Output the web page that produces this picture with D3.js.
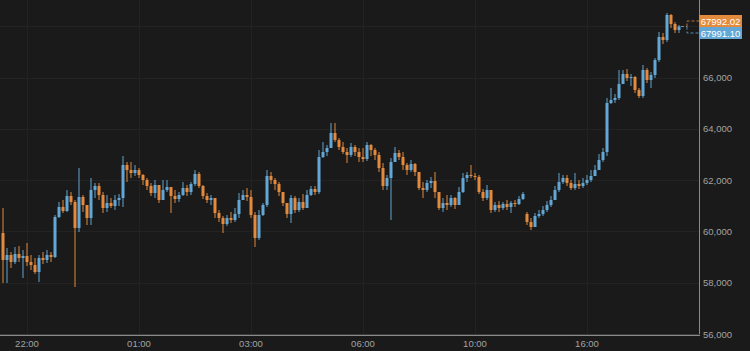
<!DOCTYPE html>
<html>
<head>
<meta charset="utf-8">
<script src="https://cdn.jsdelivr.net/npm/d3@7"></script>
<style>
  html, body { margin: 0; padding: 0; background: #1a1a1a; }
  svg { display: block; }
  .axis text { fill: #a3a3a3; font-family: "Liberation Sans", Arial, sans-serif; font-size: 9.5px; }
</style>
</head>
<body>
<div id="chart"></div>
<script>
// candle data, one entry per bar (open of a bar = close of the previous one)
const closes = [
  58886, 59081, 58808, 59120, 58964, 59042, 58808, 58691, 58418, 58964,
  58886, 59081, 59003, 60563, 60953, 60797, 61382, 61148, 60134, 61343,
  61031, 60524, 61616, 61772, 61421, 60914, 61109, 60992, 61226, 61304,
  62591, 62396, 62279, 62396, 62201, 62006, 61772, 61499, 61811, 61226,
  61616, 61733, 61382, 61265, 61421, 61694, 61538, 61850, 62240, 61772,
  61382, 61226, 61304, 60719, 60524, 60290, 60524, 60446, 60680, 61226,
  61421, 61343, 60641, 59744, 60641, 61031, 62162, 62006, 61850, 61538,
  61109, 60680, 61304, 60836, 61148, 60914, 61421, 61655, 61538, 62903,
  63098, 63254, 63839, 63566, 63293, 63098, 62981, 63293, 63098, 62903,
  62825, 63371, 63176, 62981, 62474, 61772, 62084, 62708, 63059, 62903,
  62591, 62396, 62630, 62318, 61694, 61616, 61889, 61967, 61538, 60914,
  61109, 61031, 61304, 61031, 61538, 62084, 62201, 62162, 62123, 61538,
  61304, 61616, 60836, 61031, 60914, 61070, 60953, 61109, 61070, 61265,
  61460, 60368, 60173, 60602, 60680, 60836, 61031, 61226, 61616, 61928,
  62084, 61889, 61694, 61850, 61772, 61889, 62006, 62162, 62396, 62786,
  63098, 65009, 65126, 65204, 65750, 66140, 65984, 66023, 65516, 65282,
  66296, 65906, 66101, 66686, 67583, 67466, 68441, 68090, 67856, 67992.02
];
const highs = [
  60914, 59354, 59198, 59393, 59432, 59276, 59549, 59081, 58964, 59081,
  59198, 59276, 59198, 60641, 61148, 61226, 61616, 61538, 61226, 62474,
  61421, 61031, 62084, 61889, 61889, 61538, 61421, 61304, 61421, 61460,
  62942, 62708, 62708, 62591, 62474, 62240, 62084, 61889, 62006, 61694,
  62006, 62006, 61694, 61616, 61538, 61928, 61811, 61928, 62396, 62318,
  61811, 61499, 61421, 61226, 60836, 60602, 60641, 60758, 60914, 61499,
  61616, 61694, 61616, 60758, 60836, 61109, 62396, 62318, 62084, 61928,
  61460, 61031, 61421, 61382, 61304, 61460, 61616, 61772, 61772, 63176,
  63488, 63371, 64229, 64229, 63644, 63488, 63254, 63449, 63371, 63254,
  63254, 63488, 63410, 63254, 63098, 62669, 62201, 62864, 63293, 63176,
  63098, 62669, 62786, 62669, 62318, 61928, 62006, 62123, 62318, 61382,
  61304, 61421, 61421, 61343, 61733, 62279, 62318, 62591, 62279, 62201,
  61655, 61811, 61421, 61148, 61187, 61148, 61226, 61187, 61226, 61382,
  61538, 60758, 60524, 60719, 60836, 60992, 61187, 61382, 61772, 62279,
  62201, 62201, 62006, 62279, 62006, 62084, 62201, 62396, 62591, 63020,
  63254, 65204, 65594, 65360, 66296, 66296, 66335, 66140, 66062, 65594,
  66491, 66374, 66218, 66764, 67778, 67739, 68519, 68480, 68168, 68051
];
const lows = [
  57989, 57989, 58574, 58730, 58808, 58184, 58652, 58496, 58340, 58028,
  58730, 58769, 58808, 58964, 60524, 60719, 60758, 61031, 57833, 59978,
  60758, 60251, 60251, 61304, 61226, 60719, 60758, 60914, 60836, 60992,
  60953, 61928, 62084, 62162, 62084, 61811, 61616, 61382, 61304, 61109,
  61499, 61538, 60719, 61109, 61148, 61382, 61382, 61421, 61772, 61694,
  61265, 61109, 61031, 60524, 60368, 59939, 60212, 60329, 60368, 60524,
  61226, 61187, 60524, 59393, 59666, 60602, 60953, 61850, 61616, 61382,
  60992, 60524, 60329, 60719, 60758, 60836, 60914, 61382, 61421, 61460,
  62864, 62942, 63332, 63488, 63176, 63020, 62669, 62903, 62942, 62708,
  62708, 62747, 62942, 62786, 62318, 61616, 61616, 60446, 62708, 62786,
  62396, 62201, 62318, 62162, 61616, 61304, 61538, 61694, 61304, 60836,
  60758, 60836, 60953, 60875, 61031, 61499, 61928, 62084, 62006, 61460,
  61187, 61226, 60719, 60758, 60758, 60836, 60836, 60719, 60953, 61031,
  61226, 60251, 60056, 60173, 60524, 60602, 60758, 60953, 61226, 61538,
  61850, 61772, 61616, 61616, 61655, 61694, 61811, 61928, 62162, 62396,
  62708, 62942, 64970, 65009, 65126, 65828, 65867, 65672, 65399, 65204,
  65204, 65789, 65594, 65984, 66608, 67310, 67388, 67934, 67739, 67739
];
// opens that do not follow the previous close (first bar, and the bar after the data gap)
const openBreaks = [[0, 59939], [131, 60680]];

const xTickIdx = [6, 34, 62, 90, 118, 146];
const xTickLabels = ["22:00", "01:00", "03:00", "06:00", "10:00", "16:00"];
const yTicks = [56000, 58000, 60000, 62000, 64000, 66000];
const yGrid = [58000, 60000, 62000, 64000, 66000, 68000];
const lastPrices = [67992.02, 67991.10];

const upColor = "#62a7d6", downColor = "#e38a3c";

let W = 750, H = 351;
let plot = {left: 0, top: 0, right: 699, bottom: 335};

let breaks = new Map(openBreaks);
let bars = closes.map(function (c, i) {
    let o = breaks.has(i) ? breaks.get(i) : closes[i - 1];
    return {i: i, open: o, close: c, high: highs[i], low: lows[i]};
});

let svg = d3.select("#chart").append("svg")
    .attr("width", W)
    .attr("height", H);

svg.append("rect").attr("width", W).attr("height", H).attr("fill", "#1a1a1a");

let x = d3.scaleBand()
    .domain(d3.range(bars.length))
    .range([1, 1 + 4 * bars.length])
    .paddingInner(0.25)
    .paddingOuter(0.125);

let y = d3.scaleLinear()
    .domain([56000, 69026])
    .range([334, 0]);

let cx = function (i) { return x(i) + x.bandwidth() / 2; };

// grid
let grid = svg.append("g");
grid.selectAll(".hg").data(yGrid).enter().append("line")
    .attr("x1", plot.left).attr("x2", plot.right)
    .attr("y1", function (d) { return Math.round(y(d)) + 0.5; })
    .attr("y2", function (d) { return Math.round(y(d)) + 0.5; })
    .attr("stroke", "#232323");
grid.selectAll(".vg").data(xTickIdx).enter().append("line")
    .attr("x1", function (d) { return Math.round(cx(d)) + 0.5; })
    .attr("x2", function (d) { return Math.round(cx(d)) + 0.5; })
    .attr("y1", plot.top).attr("y2", plot.bottom)
    .attr("stroke", "#222");

let g = svg.append("g");

// wicks
g.selectAll(".wick").data(bars).enter().append("line")
    .attr("x1", function (d) { return cx(d.i); })
    .attr("x2", function (d) { return cx(d.i); })
    .attr("y1", function (d) { return y(d.high); })
    .attr("y2", function (d) { return y(d.low); })
    .attr("stroke", function (d) { return d.close >= d.open ? upColor : downColor; })
    .attr("stroke-width", 1.8)
    .attr("stroke-opacity", 0.55);

// bodies
g.selectAll(".body").data(bars).enter().append("rect")
    .attr("x", function (d) { return x(d.i); })
    .attr("width", x.bandwidth())
    .attr("y", function (d) { return y(Math.max(d.open, d.close)); })
    .attr("height", function (d) { return Math.max(1, Math.abs(y(d.open) - y(d.close))); })
    .attr("fill", function (d) { return d.close >= d.open ? upColor : downColor; });

// borders
svg.append("line").attr("x1", plot.right + 0.5).attr("x2", plot.right + 0.5)
    .attr("y1", 0).attr("y2", plot.bottom + 1).attr("stroke", "#8a8a8a");
svg.append("line").attr("x1", 0).attr("x2", plot.right + 1)
    .attr("y1", plot.bottom + 0.5).attr("y2", plot.bottom + 0.5).attr("stroke", "#8a8a8a");
svg.append("line").attr("x1", 0).attr("x2", plot.right + 1)
    .attr("y1", plot.bottom - 0.5).attr("y2", plot.bottom - 0.5).attr("stroke", "#3a3a3a");

// axes
let xAxis = d3.axisBottom(x)
    .tickValues(xTickIdx)
    .tickSize(0)
    .tickPadding(5)
    .tickFormat(function (d, i) { return xTickLabels[i]; });
svg.append("g").attr("class", "axis")
    .attr("transform", "translate(0," + plot.bottom + ")")
    .call(xAxis)
    .call(function (s) { s.select(".domain").remove(); });

let yAxis = d3.axisRight(y)
    .tickValues(yTicks)
    .tickSize(0)
    .tickPadding(4)
    .tickFormat(d3.format(","));
svg.append("g").attr("class", "axis")
    .attr("transform", "translate(" + plot.right + ",0)")
    .call(yAxis)
    .call(function (s) { s.select(".domain").remove(); });

// last price markers
let last = bars[bars.length - 1];
let lx = cx(last.i) + 2, ly = y(last.close);
let boxes = [
    {v: lastPrices[0], color: downColor, top: 15},
    {v: lastPrices[1], color: upColor, top: 27}
];
svg.append("line").attr("x1", lx).attr("x2", 687).attr("y1", ly).attr("y2", ly)
    .attr("stroke", "#7a8a96").attr("stroke-dasharray", "3,2");
boxes.forEach(function (b) {
    let by = b.top + 6;
    svg.append("path")
        .attr("d", "M687," + ly + "V" + by + "H699")
        .attr("fill", "none")
        .attr("stroke", b.color)
        .attr("stroke-opacity", 0.8)
        .attr("stroke-dasharray", "3,2");
    svg.append("rect")
        .attr("x", 699).attr("y", b.top)
        .attr("width", 43).attr("height", 12)
        .attr("fill", b.color);
    svg.append("text")
        .attr("x", 720.5).attr("y", b.top + 9.5)
        .attr("text-anchor", "middle")
        .attr("fill", "#fff")
        .style("font-family", "'Liberation Sans', Arial, sans-serif")
        .style("font-size", "9.5px")
        .text(b.v.toFixed(2));
});
</script>
</body>
</html>
